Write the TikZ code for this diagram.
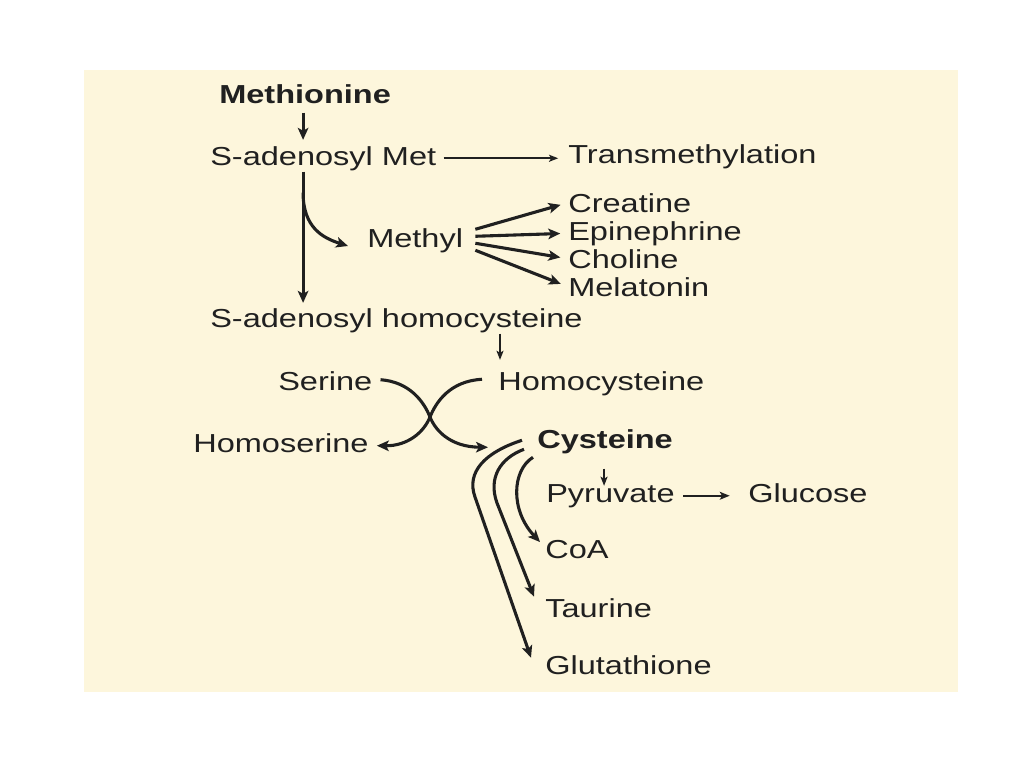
\documentclass[tikz,border=0pt]{standalone}
\usepackage{fontspec}
\setmainfont{Liberation Sans}[FakeStretch=1.25]
\usetikzlibrary{arrows.meta,calc}
\definecolor{cream}{RGB}{253,246,220}
\definecolor{ink}{RGB}{32,32,32}

\begin{document}
\begin{tikzpicture}[x=0.025cm,y=-0.025cm,
  every node/.style={inner sep=0pt,anchor=base west,text=ink,font=\fontsize{18.5}{22}\selectfont},
  fat/.style={draw=ink,line width=2.2pt,-{Stealth[length=8.5pt,width=7.5pt,inset=2pt]}},
  thinarr/.style={draw=ink,line width=1.4pt,-{Stealth[length=6.5pt,width=5pt,inset=1.5pt]}},
  medarr/.style={draw=ink,line width=1.6pt,-{Stealth[length=7pt,width=5.5pt,inset=1.5pt]}}]
\useasboundingbox (0,0) rectangle (1024,768);
\fill[cream] (84,70) rectangle (958,692);

\node (m_meth) at (219,104) {\bfseries Methionine};
\node (m_sam) at (210,165) {S-adenosyl Met};
\node (m_trans) at (568,164) {Transmethylation};
\node (m_methyl) at (367,247) {Methyl};
\node (m_crea) at (568,212) {Creatine};
\node (m_epi) at (568,240) {Epinephrine};
\node (m_chol) at (568,268) {Choline};
\node (m_mela) at (568,296) {Melatonin};
\node (m_sah) at (210,327) {S-adenosyl homocysteine};
\node (m_ser) at (278,390) {Serine};
\node (m_hcy) at (498,390) {Homocysteine};
\node (m_hse) at (193,452) {Homoserine};
\node (m_cys) at (537,448) {\bfseries Cysteine};
\node (m_pyr) at (546,502) {Pyruvate};
\node (m_glc) at (748,502) {Glucose};
\node (m_coa) at (545,558) {CoA};
\node (m_tau) at (545,617) {Taurine};
\node (m_glu) at (545,674) {Glutathione};

\draw[fat] ($(m_meth.south)+(-2,8)$) -- ($(m_meth.south |- m_sam.north)+(-2,-6)$);
\draw[fat] ($(m_meth.south |- m_sam.south)+(-2,1)$) -- ($(m_meth.south |- m_sah.north)+(-2,-5)$);
\draw[fat] ($(m_meth.south |- m_sam.south)+(-2,22)$) .. controls +(0,35) and +(-25,-8) .. ($(m_methyl.base west)+(-19,-1)$);
\draw[thinarr,shorten <=5pt,shorten >=7pt] (m_sam.east) -- (m_sam.east -| m_trans.west);
\foreach \dy/\t in {-11/m_crea,-4/m_epi,3/m_chol,10/m_mela}
  \draw[fat,shorten >=5.5pt] ($(m_methyl.east)+(12,\dy)$) -- (\t.west);
\draw[thinarr] ($(m_sah.south -| m_hcy.west)+(2,1)$) -- ($(m_hcy.north -| m_hcy.west)+(2,-11)$);
\draw[fat] ($(m_ser.east)+(8,-1)$) .. controls (410,382) and (424,402) .. (430,417)
  .. controls (436,432) and (452,447) .. ($(m_cys.west)+(-49,6)$);
\draw[fat] ($(m_hcy.west)+(-16,-4)$) .. controls (450,381) and (436,402) .. (430,417)
  .. controls (424,432) and (408,446) .. ($(m_hse.east)+(8,3)$);
\draw[thinarr] ($(m_cys.south)+(-1,15)$) -- ($(m_cys.south |- m_pyr.north)+(-1,2)$);
\draw[medarr,shorten <=6pt,shorten >=13pt] (m_pyr.east) -- (m_pyr.east -| m_glc.west);
\draw[fat] ($(m_cys.west)+(-15,-1)$) .. controls +(-37,12) and +(-9,-25) .. (475,497) -- ($(m_glu.west)+(-14,-7)$);
\draw[fat] ($(m_cys.west)+(-13,8)$) .. controls +(-24,9) and +(-9,-25) .. (497,503) -- ($(m_tau.west)+(-11,-11)$);
\draw[fat] ($(m_cys.west)+(-4,16)$) .. controls +(-21,13) and +(-30,-32) .. ($(m_coa.west)+(-5,-7)$);
\end{tikzpicture}
\end{document}
